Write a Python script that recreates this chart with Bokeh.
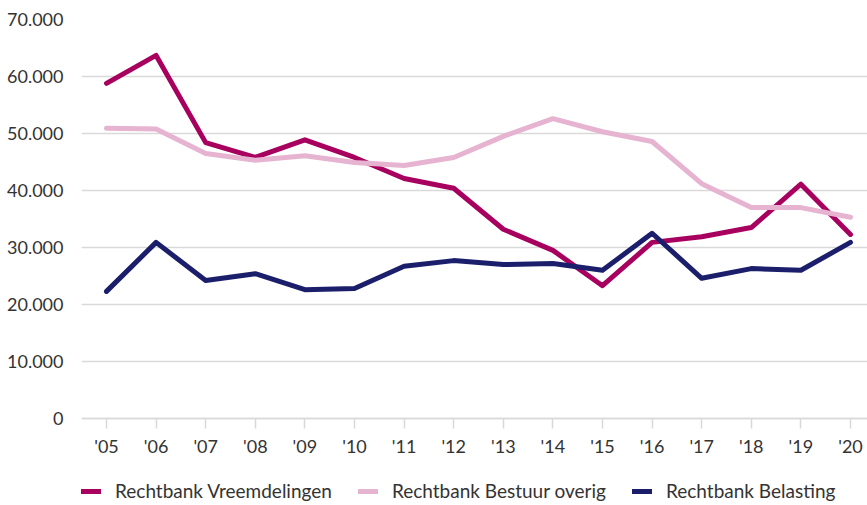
from bokeh.plotting import figure
from bokeh.models import Legend, LegendItem, FixedTicker, Range1d
from bokeh.embed import file_html
from bokeh.resources import INLINE

years = list(range(2005, 2021))
year_labels = ["'05", "'06", "'07", "'08", "'09", "'10", "'11", "'12", "'13", "'14",
               "'15", "'16", "'17", "'18", "'19", "'20"]
vreemdelingen = [58800, 63700, 48400, 45800, 48900, 45800, 42100, 40400, 33200, 29500,
                 23300, 30900, 31900, 33500, 41100, 32300]
bestuur_overig = [50900, 50800, 46500, 45300, 46100, 44900, 44400, 45800, 49500, 52600,
                  50300, 48600, 41200, 37000, 37000, 35300]
belasting = [22300, 30900, 24200, 25400, 22600, 22800, 26700, 27700, 27000, 27200,
             26000, 32500, 24600, 26300, 26000, 30900]
y_ticks = [0, 10000, 20000, 30000, 40000, 50000, 60000, 70000]
y_tick_labels = ["0", "10.000", "20.000", "30.000", "40.000", "50.000", "60.000", "70.000"]
series_names = ["Rechtbank Vreemdelingen", "Rechtbank Bestuur overig", "Rechtbank Belasting"]
colors = ["#a8005f", "#e6b3d1", "#1b1f6b"]

FONT = "Lato"
TXT = "#333333"

# the frame reaches down to the figure's bottom so that the legend fits inside it;
# the x axis is pinned at y = 0
p = figure(width=867, height=505, output_backend="svg", toolbar_location=None,
           x_range=Range1d(2004.496, 2020.343), y_range=Range1d(-15263, 70000),
           min_border_left=81, min_border_right=0, min_border_top=19, min_border_bottom=0)
p.outline_line_color = None
p.background_fill_color = "white"
p.border_fill_color = "white"

renderers = []
for vals, col in zip([vreemdelingen, bestuur_overig, belasting], colors):
    r = p.line(years, vals, line_color=col, line_width=5, line_cap="round", line_join="round")
    renderers.append(r)

# grid
p.xgrid.grid_line_color = None
p.ygrid.ticker = FixedTicker(ticks=y_ticks)
p.ygrid.grid_line_color = "#d9d9d9"
p.ygrid.grid_line_width = 1.5

# y axis
p.yaxis.ticker = FixedTicker(ticks=y_ticks)
p.yaxis.major_label_overrides = {t: l for t, l in zip(y_ticks, y_tick_labels)}
p.yaxis.axis_line_color = None
p.yaxis.major_tick_line_color = None
p.yaxis.major_tick_in = 0
p.yaxis.major_tick_out = 0
p.yaxis.minor_tick_line_color = None
p.yaxis.minor_tick_out = 0
p.yaxis.major_label_standoff = 18
p.yaxis.major_label_text_font = FONT
p.yaxis.major_label_text_font_size = "18px"
p.yaxis.major_label_text_color = TXT

# x axis
p.xaxis.fixed_location = 0
p.xaxis.ticker = FixedTicker(ticks=years)
p.xaxis.major_label_overrides = {y: l for y, l in zip(years, year_labels)}
p.xaxis.axis_line_color = "#d9d9d9"
p.xaxis.axis_line_width = 1.5
p.xaxis.major_tick_line_color = "#d9d9d9"
p.xaxis.major_tick_line_width = 1.5
p.xaxis.major_tick_in = 0
p.xaxis.major_tick_out = 10
p.xaxis.minor_tick_line_color = None
p.xaxis.minor_tick_out = 0
p.xaxis.major_label_standoff = 6
p.xaxis.major_label_text_font = FONT
p.xaxis.major_label_text_font_size = "18px"
p.xaxis.major_label_text_color = TXT

legend = Legend(items=[LegendItem(label=n, renderers=[r]) for n, r in zip(series_names, renderers)],
                orientation="horizontal", location=(0, 3),
                glyph_width=20, glyph_height=20, label_height=20, label_standoff=14, spacing=26,
                padding=0, margin=0,
                label_text_font=FONT, label_text_font_size="19px", label_text_color=TXT,
                border_line_color=None, background_fill_alpha=0)
p.add_layout(legend, "center")

open("out.html", "w").write(file_html(p, INLINE))
